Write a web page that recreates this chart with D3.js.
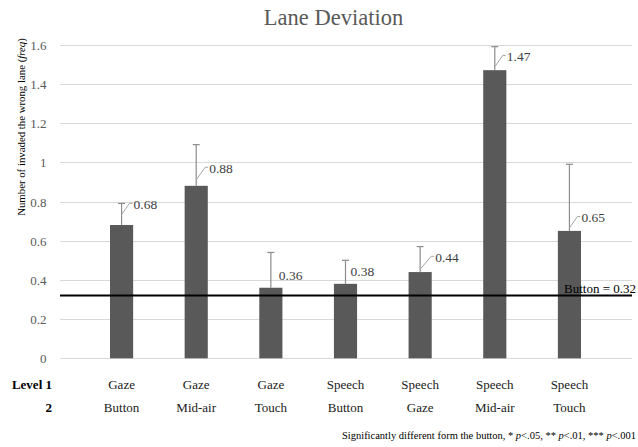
<!DOCTYPE html>
<html>
<head>
<meta charset="utf-8">
<script src="https://cdn.jsdelivr.net/npm/d3@7/dist/d3.min.js"></script>
<style>
  html, body { margin: 0; padding: 0; background: #fff; }
  svg { display: block; }
  text { font-family: "Liberation Serif", "Times New Roman", serif; }
</style>
</head>
<body>
<svg id="chart" width="638" height="447"></svg>
<script>
// Lane deviation per modality pair
const level1 = ["Gaze", "Gaze", "Gaze", "Speech", "Speech", "Speech", "Speech"];
const level2 = ["Button", "Mid-air", "Touch", "Button", "Gaze", "Mid-air", "Touch"];
const means = [0.68, 0.88, 0.36, 0.38, 0.44, 1.47, 0.65];
const errors = [0.11, 0.21, 0.18, 0.12, 0.13, 0.12, 0.34];
const yTicks = [0, 0.2, 0.4, 0.6, 0.8, 1, 1.2, 1.4, 1.6];
const baselineValue = 0.32;

// Data-label nudges (px) from the default spot beside the error bar, and whether a leader is drawn
const labelNudge = [[12, -10], [13, 3], [8, 5], [5, -1], [15, -2], [12, -2], [12, 20]];
const labelLeader = [true, true, false, false, true, true, true];

const svg = d3.select("#chart");
const plot = { left: 60, right: 632, top: 44.7, bottom: 358.3 };

const x = d3.scaleBand()
  .domain(d3.range(means.length))
  .range([58.5, 632.5])
  .padding(0.69);

const y = d3.scaleLinear()
  .domain([0, 1.6])
  .range([plot.bottom, plot.top]);

// Title
svg.append("text")
  .attr("x", 333.5).attr("y", 25)
  .attr("text-anchor", "middle")
  .attr("font-size", 22.5)
  .attr("fill", "#595959")
  .text("Lane Deviation");

// Gridlines
svg.append("g")
  .selectAll("line")
  .data(yTicks)
  .join("line")
  .attr("x1", plot.left).attr("x2", plot.right)
  .attr("y1", d => Math.round(y(d)) + 0.5)
  .attr("y2", d => Math.round(y(d)) + 0.5)
  .attr("stroke", "#d9d9d9")
  .attr("stroke-width", 1);

// Y axis labels
const yAxis = d3.axisLeft(y).tickValues(yTicks).tickSize(0).tickPadding(0)
  .tickFormat(d => d3.format("~g")(d));
const yg = svg.append("g")
  .attr("transform", `translate(46.5,0)`)
  .call(yAxis);
yg.select(".domain").remove();
yg.selectAll("text")
  .attr("font-family", "Liberation Serif, serif")
  .attr("font-size", 13)
  .attr("fill", "#595959")
  .attr("dy", "0.35em");

// Y axis title
const yTitle = svg.append("text")
  .attr("transform", "translate(25,127) rotate(-90)")
  .attr("text-anchor", "middle")
  .attr("font-size", 10.8)
  .attr("fill", "#000");
yTitle.append("tspan").text("Number of invaded the wrong lane (");
yTitle.append("tspan").attr("font-style", "italic").text("freq");
yTitle.append("tspan").text(")");

// Bars
svg.append("g")
  .selectAll("rect")
  .data(means)
  .join("rect")
  .attr("x", (d, i) => x(i))
  .attr("width", x.bandwidth())
  .attr("y", d => y(d))
  .attr("height", d => y(0) - y(d))
  .attr("fill", "#595959");

// Error bars (upper only)
const eg = svg.append("g").attr("stroke", "#8c8c8c").attr("stroke-width", 1.2);
means.forEach((m, i) => {
  const cx = x(i) + x.bandwidth() / 2;
  eg.append("line")
    .attr("x1", cx).attr("x2", cx)
    .attr("y1", y(m)).attr("y2", y(m + errors[i]));
  eg.append("line")
    .attr("x1", cx - 3.5).attr("x2", cx + 3.5)
    .attr("y1", y(m + errors[i])).attr("y2", y(m + errors[i]));
});

// Data labels with leaders
const lg = svg.append("g");
means.forEach((m, i) => {
  const cx = x(i) + x.bandwidth() / 2;
  const mid = (y(m) + y(m + errors[i])) / 2;
  const tx = cx + labelNudge[i][0];
  const ly = mid + labelNudge[i][1];
  if (labelLeader[i]) {
    const elbow = tx - 4;
    const drop = Math.max(0, Math.min(y(m) - ly, 1.3 * (elbow - cx), 12));
    lg.append("polyline")
      .attr("points", `${cx},${ly + drop} ${elbow},${ly - 1} ${tx - 1},${ly - 1}`)
      .attr("fill", "none")
      .attr("stroke", "#a6a6a6")
      .attr("stroke-width", 1);
  }
  lg.append("text")
    .attr("x", tx).attr("y", ly)
    .attr("dy", "0.35em")
    .attr("font-size", 13.5)
    .attr("fill", "#404040")
    .text(d3.format(".2f")(m));
});

// Button reference line
svg.append("line")
  .attr("x1", plot.left).attr("x2", plot.right)
  .attr("y1", y(baselineValue)).attr("y2", y(baselineValue))
  .attr("stroke", "#000")
  .attr("stroke-width", 2);
svg.append("text")
  .attr("x", 636).attr("y", y(baselineValue) - 3)
  .attr("text-anchor", "end")
  .attr("font-size", 13)
  .attr("fill", "#000")
  .text("Button = " + baselineValue);

// Category labels (two levels)
const catRows = [level1, level2];
const rowY = [388.5, 411.5];
const rowHead = ["Level 1", "2"];
catRows.forEach((row, r) => {
  svg.append("text")
    .attr("x", 52).attr("y", rowY[r])
    .attr("text-anchor", "end")
    .attr("font-size", 13)
    .attr("font-weight", "bold")
    .attr("fill", "#000")
    .text(rowHead[r]);
  svg.append("g")
    .selectAll("text")
    .data(row)
    .join("text")
    .attr("x", (d, i) => x(i) + x.bandwidth() / 2)
    .attr("y", rowY[r])
    .attr("text-anchor", "middle")
    .attr("font-size", 13)
    .attr("fill", "#1a1a1a")
    .text(d => d);
});

// Footnote
const foot = svg.append("text")
  .attr("x", 636).attr("y", 439)
  .attr("text-anchor", "end")
  .attr("font-size", 10.5)
  .attr("fill", "#000");
foot.append("tspan").text("Significantly different form the button, * ");
foot.append("tspan").attr("font-style", "italic").text("p");
foot.append("tspan").text("<.05, ** ");
foot.append("tspan").attr("font-style", "italic").text("p");
foot.append("tspan").text("<.01, *** ");
foot.append("tspan").attr("font-style", "italic").text("p");
foot.append("tspan").text("<.001");
</script>
</body>
</html>
